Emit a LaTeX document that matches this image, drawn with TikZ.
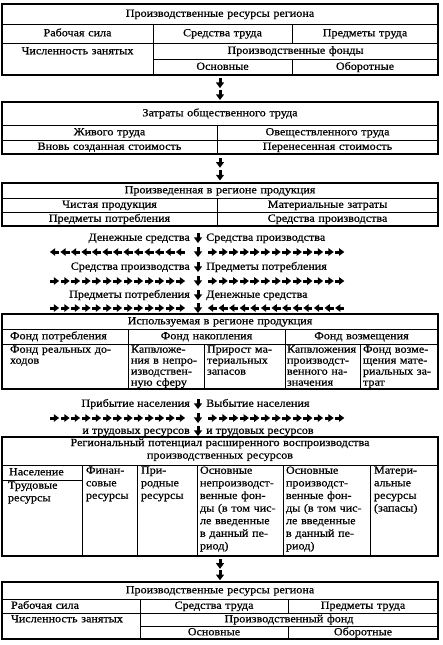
\documentclass[tikz,border=0pt]{standalone}
\usepackage{fontspec}
\setmainfont{Liberation Serif}[FakeStretch=1.1,FakeBold=0.6]
\usetikzlibrary{calc}
\newcommand\fsz{\fontsize{11pt}{11.5pt}\selectfont}
\def\bls{11pt}
\tikzset{
  cell/.style={draw, line width=1pt, inner sep=0pt, outer sep=0pt, anchor=north west, font=\fsz, align=center},
  one/.style={text height=7.8pt, text depth=2.2pt},
  frame/.style={draw, line width=1.7pt},
  txt/.style={font=\fsz, inner sep=0pt, text height=7.8pt, text depth=2.2pt},
  rarr/.pic={\fill (-4.5,-1.5) rectangle (0.5,1.5); \fill (-0.7,-3.9) -- (4.6,0) -- (-0.7,3.9) -- cycle;},
  larr/.pic={\fill (4.5,-1.5) rectangle (-0.5,1.5); \fill (0.7,-3.9) -- (-4.6,0) -- (0.7,3.9) -- cycle;},
  darr/.pic={\fill (-1.5,-5) rectangle (1.5,0.5); \fill (-4.2,-0.7) -- (0,5) -- (4.2,-0.7) -- cycle;},
}
\newcommand\cel[7][]{%
  \pgfmathsetlengthmacro\cellW{(#5-#3)*1pt}%
  \pgfmathsetlengthmacro\cellH{(#6-#4)*1pt}%
  \pgfmathsetlengthmacro\cellT{(#5-#3-8)*1pt}%
  \node[cell,one,minimum width=\cellW,minimum height=\cellH,text width=\cellT,#1] (#2) at (#3,#4) {#7};}
\newcommand\celp[7][4]{%
  \pgfmathsetlengthmacro\cellW{(#5-#3)*1pt}%
  \pgfmathsetlengthmacro\cellH{(#6-#4)*1pt}%
  \pgfmathsetlengthmacro\cellT{(#5-#3-2*#1)*1pt}%
  \pgfmathsetlengthmacro\cellI{(#6-#4-3)*1pt}%
  \node[cell,minimum width=\cellW,minimum height=\cellH,text width=\cellT] (#2) at (#3,#4)
    {\parbox[c][\cellI][t]{\cellT}{\tolerance=10000 \hbadness=10000 \hfuzz=20pt \exhyphenpenalty=10000 \hyphenpenalty=10000 \baselineskip=\bls\relax #7}};}
\newcommand\tline[4]{%
  \node[txt,anchor=east] (#1l) at (190,#2) {#3};
  \pic at (198,#2) {darr};
  \node[txt,anchor=west] (#1r) at (206,#2) {#4};}
\newcommand\arow[3]{%
  \foreach \i in {0,...,12}{\pic at ({54.5+\i*10.5},#1) {#2};}
  \pic at (198,#1) {darr};
  \foreach \i in {0,...,12}{\pic at ({212.5+\i*10.6},#1) {#3};}}
\begin{document}
\begin{tikzpicture}[x=1pt,y=-1pt]
\fill[white] (0,0) rectangle (442,645);
\useasboundingbox (0,0) rectangle (442,645);
% Box 1
\cel{b1t}{2}{4}{438}{24}{Производственные ресурсы региона}
\cel{b1a}{2}{24}{153}{43}{Рабочая сила}
\cel{b1b}{153}{24}{292}{43}{Средства труда}
\cel{b1c}{292}{24}{438}{43}{Предметы труда}
\cel[text depth=17.3pt]{b1d}{2}{43}{153}{75}{Численность занятых}
\cel{b1e}{153}{43}{438}{59}{Производственные фонды}
\cel{b1f}{153}{59}{292}{75}{Основные}
\cel{b1g}{292}{59}{438}{75}{Оборотные}
\draw[frame] (b1t.north west) rectangle (b1g.south east);
% Box 2
\cel{b2t}{2}{102}{438}{125}{Затраты общественного труда}
\cel{b2a}{2}{125}{217}{140}{Живого труда}
\cel{b2b}{217}{125}{438}{140}{Овеществленного труда}
\cel{b2c}{2}{140}{217}{154}{Вновь созданная стоимость}
\cel{b2d}{217}{140}{438}{154}{Перенесенная стоимость}
\draw[frame] (b2t.north west) rectangle (b2d.south east);
% Box 3
\cel{b3t}{2}{183}{438}{198}{Произведенная в регионе продукция}
\cel{b3a}{2}{198}{217}{212}{Чистая продукция}
\cel{b3b}{217}{198}{438}{212}{Материальные затраты}
\cel{b3c}{2}{212}{217}{226}{Предметы потребления}
\cel{b3d}{217}{212}{438}{226}{Средства производства}
\draw[frame] (b3t.north west) rectangle (b3d.south east);
% arrows between boxes
\coordinate (s1) at ($(b1d.south west)!.5!(b1g.south east)$);
\coordinate (n2) at ($(b2t.north west)!.5!(b2t.north east)$);
\pic at ($(s1)!.3!(n2)$) {darr};
\pic at ($(s1)!.74!(n2)$) {darr};
\coordinate (s2) at ($(b2c.south west)!.5!(b2d.south east)$);
\coordinate (n3) at ($(b3t.north west)!.5!(b3t.north east)$);
\pic at ($(s2)!.3!(n3)$) {darr};
\pic at ($(s2)!.74!(n3)$) {darr};
% flows
\tline{t1}{238}{Денежные средства}{Средства производства}
\arow{252}{larr}{rarr}
\tline{t2}{267}{Средства производства}{Предметы потребления}
\arow{281}{rarr}{rarr}
\tline{t3}{295}{Предметы потребления}{Денежные средства}
\arow{308}{rarr}{larr}
% Box 4
\cel{b4t}{2}{314}{438}{329}{Используемая в регионе продукция}
\cel[align=left,text width=110pt]{b4a}{2}{329}{128}{344}{Фонд потребления}
\cel{b4b}{128}{329}{285}{344}{Фонд накопления}
\cel{b4c}{285}{329}{438}{344}{Фонд возмещения}
\celp[8]{b4d}{2}{344}{128}{389}{Фонд реальных до-\linebreak ходов}
\celp[3]{b4e}{128}{344}{204}{389}{Капвложе-\linebreak ния в непро-\linebreak изводствен-\linebreak ную сферу}
\celp[3]{b4f}{204}{344}{285}{389}{Прирост ма-\linebreak териальных\linebreak запасов}
\celp[2]{b4g}{285}{344}{360}{389}{Капвложения\linebreak производст-\linebreak венного на-\linebreak значения}
\celp[3]{b4h}{360}{344}{438}{389}{Фонд возме-\linebreak щения мате-\linebreak риальных за-\linebreak трат}
\draw[frame] (b4t.north west) rectangle (b4h.south east);
% flows 2
\tline{t4}{404}{Прибытие населения}{Выбытие населения}
\arow{418}{rarr}{rarr}
\tline{t5}{431}{и трудовых ресурсов}{и трудовых ресурсов}
% Box 5
\def\bls{12.6pt}
\celp{b5t}{2}{437}{438}{465}{\centering Региональный потенциал расширенного воспроизводства\\производственных ресурсов}
\cel[align=left,text width=66pt]{b5a}{2}{465}{82}{480}{Население}
\celp[6]{b5b}{2}{480}{82}{556}{Трудовые\linebreak ресурсы}
\celp[4]{b5c}{82}{465}{137}{556}{Финан-\linebreak совые\linebreak ресурсы}
\celp{b5d}{137}{465}{197}{556}{При-\linebreak родные\linebreak ресурсы}
\celp[3]{b5e}{197}{465}{283}{556}{Основные\linebreak непроизводст-\linebreak венные фон-\linebreak ды (в том чис-\linebreak ле введенные\linebreak в данный пе-\linebreak риод)}
\celp[3]{b5f}{283}{465}{370}{556}{Основные\linebreak производст-\linebreak венные фон-\linebreak ды (в том чис-\linebreak ле введенные\linebreak в данный пе-\linebreak риод)}
\celp{b5g}{370}{465}{438}{556}{Матери-\linebreak альные\linebreak ресурсы\linebreak (запасы)}
\draw[frame] (b5t.north west) rectangle (b5g.south east);
% Box 6
\cel{b6t}{2}{582}{438}{599}{Производственные ресурсы региона}
\cel[align=left,text width=120pt]{b6a}{2}{599}{140}{613}{Рабочая сила}
\cel{b6b}{140}{599}{288}{613}{Средства труда}
\cel{b6c}{288}{599}{438}{613}{Предметы труда}
\cel[align=left,text width=120pt,text depth=15.3pt]{b6d}{2}{613}{140}{639}{Численность занятых}
\cel{b6e}{140}{613}{438}{626}{Производственный фонд}
\cel{b6f}{140}{626}{288}{639}{Основные}
\cel{b6g}{288}{626}{438}{639}{Оборотные}
\draw[frame] (b6t.north west) rectangle (b6g.south east);
\coordinate (s5) at ($(b5b.south west)!.5!(b5g.south east)$);
\coordinate (n6) at ($(b6t.north west)!.5!(b6t.north east)$);
\pic at ($(s5)!.3!(n6)$) {darr};
\pic at ($(s5)!.74!(n6)$) {darr};
\end{tikzpicture}
\end{document}
